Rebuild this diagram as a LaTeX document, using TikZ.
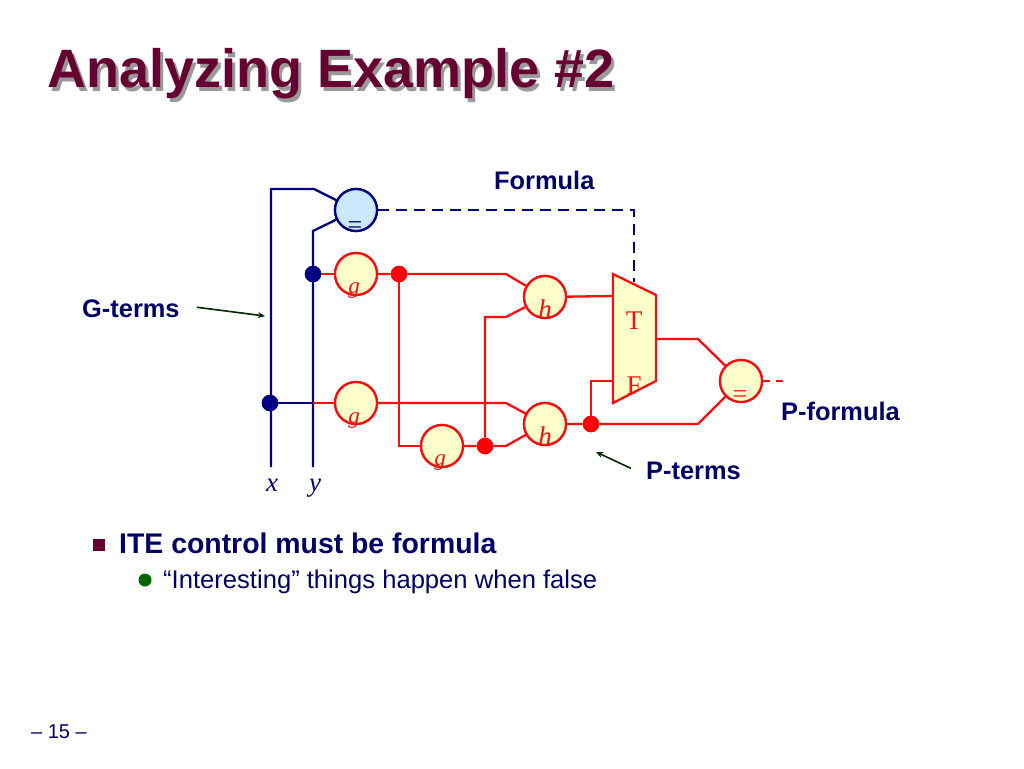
\documentclass[tikz,border=0pt]{standalone}
\usepackage{fontspec}
\setmainfont{Liberation Sans}
\newfontfamily\serifface{Liberation Serif}
\usetikzlibrary{arrows.meta}
\definecolor{navy}{HTML}{000080}
\definecolor{txtnavy}{HTML}{000066}
\definecolor{wine}{HTML}{660033}
\definecolor{wirered}{HTML}{F50F0F}
\definecolor{pale}{HTML}{FFFFCC}
\definecolor{paleblue}{HTML}{CCE8FF}
\definecolor{dgreen}{HTML}{006600}
\tikzset{
  x=1pt,y=-1pt,
  bluewire/.style={draw=navy,line width=2.3pt},
  redwire/.style={draw=wirered,line width=2.3pt},
  gatecircle/.style={circle,draw=wirered,fill=pale,line width=2.3pt,minimum size=42pt,inner sep=0pt},
  eqcircle/.style={circle,draw=navy,fill=paleblue,line width=2.3pt,minimum size=42pt,inner sep=0pt},
  bluedot/.style={circle,fill=navy,minimum size=16.5pt,inner sep=0pt},
  reddot/.style={circle,fill=red,minimum size=16.5pt,inner sep=0pt},
  gatelabel/.style={font=\serifface\itshape\fontsize{23}{23}\selectfont,text=wirered,inner sep=0pt},
  hlabel/.style={font=\serifface\itshape\fontsize{27}{27}\selectfont,text=wirered,inner sep=0pt},
  serifred/.style={font=\serifface\fontsize{27}{27}\selectfont,text=wirered,inner sep=0pt},
  varlabel/.style={font=\serifface\itshape\fontsize{27}{27}\selectfont,text=navy,inner sep=0pt},
  termlabel/.style={font=\bfseries\fontsize{25.4}{25.4}\selectfont,text=txtnavy,inner sep=0pt},
  pointer/.style={draw=black!60!dgreen,line width=1.6pt,-{Stealth[length=7pt,width=6pt]}},
  titletext/.style={font=\bfseries\fontsize{54}{54}\selectfont,inner sep=0pt,anchor=base west}
}
\begin{document}
\begin{tikzpicture}
\useasboundingbox (0,0) rectangle (1024,768);
\fill[white] (0,0) rectangle (1024,768);

% Title
\node[titletext,text=black!40] (titleshadow) at (50.5,91) {Analyzing Example \#2};
\node[titletext,text=wine] (title) at (47,87.5) {Analyzing Example \#2};

% Junction coordinates
\coordinate (xtop) at (271,189);
\coordinate (xbend) at (314,189);
\coordinate (xbot) at (271,467);
\coordinate (ybend) at (313,231);
\coordinate (ybot) at (313,467);
\coordinate (ycross) at (313,403);
\coordinate (dashcorner) at (634,210);
\coordinate (dashend) at (634,282);
\coordinate (h1a) at (506,274);
\coordinate (h1b) at (506,317);
\coordinate (h1c) at (485,317);
\coordinate (h2a) at (506,403);
\coordinate (h2b) at (506,446);
\coordinate (g3in) at (399,446);
\coordinate (muxT) at (613,296);
\coordinate (muxF) at (613,381);
\coordinate (muxFb) at (591,381);
\coordinate (muxout) at (656,339);
\coordinate (outb1) at (698,339);
\coordinate (outb2) at (698,424);
\coordinate (outend) at (785,381);

% Node positions
\coordinate (peq) at (356,210);
\node[eqcircle] (eq) at (peq) {};
\node[gatecircle] (g1) at (356,274) {};
\node[gatecircle] (g2) at (356,403) {};
\node[gatecircle] (g3) at (442,446) {};
\node[gatecircle] (h1) at (545,297) {};
\node[gatecircle] (h2) at (545,424) {};
\node[gatecircle] (eqout) at (741,381) {};
\node[bluedot] (dy) at (313,274) {};
\node[reddot] (d1) at (399,274) {};
\node[bluedot] (dx) at (270,403) {};
\node[reddot] (d2) at (485,446) {};
\node[reddot] (d3) at (591,424) {};

% Blue wires
\draw[bluewire,line join=miter] (xbot) -- (xtop) -- (xbend) -- (eq);
\draw[bluewire] (ybot) -- (ybend) -- (eq);
\draw[bluewire] (dx) -- (ycross);
\draw[bluewire,dash pattern=on 11pt off 7pt] (eq.east) -- (dashcorner) -- (dashend);

% Red wires
\draw[redwire] (dy) -- (g1);
\draw[redwire] (ycross) -- (g2);
\draw[redwire] (g1) -- (d1) -- (h1a) -- (h1);
\draw[redwire] (d2) -- (h1c) -- (h1b) -- (h1);
\draw[redwire] (g2) -- (h2a) -- (h2);
\draw[redwire] (d1) -- (g3in) -- (g3);
\draw[redwire] (g3) -- (d2) -- (h2b) -- (h2);
\draw[redwire] (h1) -- (muxT);
\draw[redwire] (h2) -- (d3) -- (outb2) -- (eqout);
\draw[redwire] (d3) -- (muxFb) -- (muxF);
\draw[redwire] (muxout) -- (outb1) -- (eqout);
\draw[redwire,dash pattern=on 7pt off 6pt] (eqout.east) -- (outend);

% Redraw circles on top of wires
\node[eqcircle] at (eq) {};
\node[gatecircle] at (g1) {};
\node[gatecircle] at (g2) {};
\node[gatecircle] at (g3) {};
\node[gatecircle] at (h1) {};
\node[gatecircle] at (h2) {};
\node[gatecircle] at (eqout) {};
\node[bluedot] at (dy) {};
\node[reddot] at (d1) {};
\node[bluedot] at (dx) {};
\node[reddot] at (d2) {};
\node[reddot] at (d3) {};

% Mux
\draw[redwire,fill=pale,line join=miter] (613,274) -- (656,295) -- (656,381) -- (613,403) -- cycle;

% Gate labels
\node[font=\serifface\fontsize{26}{26}\selectfont,text=navy!70!black,inner sep=0pt,anchor=base] (eqsign) at (355,233) {=};
\node[gatelabel,anchor=base] (lg1) at (354,293) {g};
\node[gatelabel,anchor=base] (lg2) at (354,423) {g};
\node[gatelabel,anchor=base] (lg3) at (440,465) {g};
\node[hlabel,anchor=base] (lh1) at (545,318) {h};
\node[hlabel,anchor=base] (lh2) at (545,445) {h};
\node[serifred,anchor=base] (lT) at (634,329) {T};
\node[serifred,anchor=base] (lF) at (634,394) {F};
\node[font=\serifface\fontsize{26}{26}\selectfont,text=wirered,inner sep=0pt,anchor=base] (leq) at (740,402.5) {=};
\node[varlabel,anchor=base] (lx) at (272,491) {x};
\node[varlabel,anchor=base] (ly) at (315,491) {y};

% Term labels
\node[termlabel,anchor=base west] (formula) at (494,189) {Formula};
\node[termlabel,anchor=base west] (gterms) at (82,317) {G-terms};
\node[termlabel,anchor=base west] (pterms) at (646,479) {P-terms};
\node[termlabel,anchor=base west] (pformula) at (781,420) {P-formula};
\coordinate (gtarget) at (265,316);
\coordinate (ptarget) at (596,452);
\draw[pointer] (gterms.east) ++(17,-1) -- (gtarget);
\draw[pointer] (pterms.west) ++(-15,-2) -- (ptarget);

% Bullets
\node[fill=wine,minimum size=12pt,inner sep=0pt] (b1) at (99,545) {};
\node[font=\bfseries\fontsize{28.4}{28.4}\selectfont,text=txtnavy,anchor=base west,inner sep=0pt] (t1) at (119,553) {ITE control must be formula};
\node[circle,fill=dgreen,minimum size=13pt,inner sep=0pt] (b2) at (145,580) {};
\node[font=\fontsize{25.6}{25.6}\selectfont,text=txtnavy,anchor=base west,inner sep=0pt] (t2) at (163,588) {“Interesting” things happen when false};

% Page number
\node[font=\fontsize{20}{20}\selectfont,text=txtnavy,anchor=base west,inner sep=0pt] (page) at (31,738.5) {– 15 –};
\end{tikzpicture}
\end{document}
